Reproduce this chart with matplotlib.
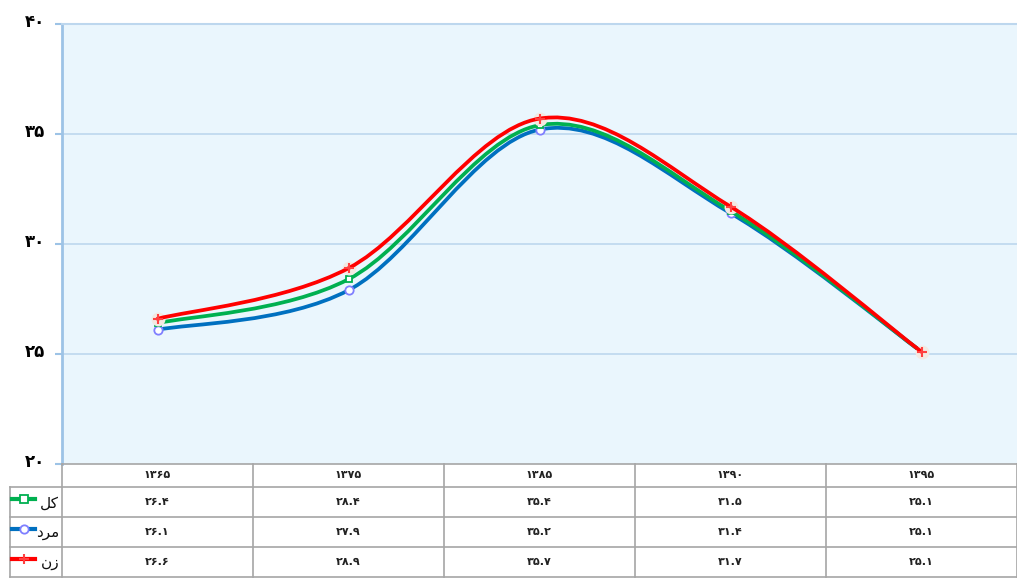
import matplotlib
matplotlib.use("Agg")
import matplotlib.pyplot as plt
from matplotlib.path import Path
from matplotlib.patches import PathPatch
from matplotlib.lines import Line2D
import matplotlib.transforms as mtransforms
import numpy as np

categories = ["۱۳۶۵", "۱۳۷۵", "۱۳۸۵", "۱۳۹۰", "۱۳۹۵"]
kol = [26.4, 28.4, 35.4, 31.5, 25.1]
mard = [26.1, 27.9, 35.2, 31.4, 25.1]
zan = [26.6, 28.9, 35.7, 31.7, 25.1]
kol_txt = ["۲۶.۴", "۲۸.۴", "۳۵.۴", "۳۱.۵", "۲۵.۱"]
mard_txt = ["۲۶.۱", "۲۷.۹", "۳۵.۲", "۳۱.۴", "۲۵.۱"]
zan_txt = ["۲۶.۶", "۲۸.۹", "۳۵.۷", "۳۱.۷", "۲۵.۱"]
# series names (Persian, visual order with presentation forms): کل, مرد, زن
names = ["\uFEDE\uFB90", "\uFEA9\uFEAE\uFEE3", "\uFEE5\uFEAF"]
yticks = [20, 25, 30, 35, 40]
ytick_labels = ["۲۰", "۲۵", "۳۰", "۳۵", "۴۰"]

colors = ["#00B050", "#0070C0", "#FF0000"]
marker_edges = ["#00B050", "#7F7FFF", "#FF4040"]
markers = ["s", "o", "+"]
msizes = [5, 6, 7]
series = [kol, mard, zan]
texts = [kol_txt, mard_txt, zan_txt]

W, H = 1017, 585
fig = plt.figure(figsize=(W / 100, H / 100), dpi=100)
plt.rcParams['font.family'] = ['DejaVu Sans']

L, R, T, B = 62, 1017, 24, 464
ax = fig.add_axes([L / W, 1 - B / H, (R - L) / W, (B - T) / H])
ax.set_facecolor("#EAF6FD")
n = len(categories)
ax.set_xlim(-0.5, n - 0.5)
ax.set_ylim(20, 40)
ax.set_xticks([])
ax.set_yticks(yticks)
ax.set_yticklabels(ytick_labels, fontsize=12, fontweight='bold')
ax.tick_params(axis='y', length=5, width=1.5, color="#9DC3E6", pad=7)
offset = mtransforms.ScaledTranslation(0, 2 / 100, fig.dpi_scale_trans)
for lab in ax.get_yticklabels():
    lab.set_verticalalignment('center')
    lab.set_transform(lab.get_transform() + offset)
for s in ["right", "bottom"]:
    ax.spines[s].set_visible(False)
ax.spines["left"].set_color("#9DC3E6")
ax.spines["left"].set_linewidth(2)
ax.spines["top"].set_color("#BDD7EE")
ax.spines["top"].set_linewidth(1.5)
for yv in yticks[1:-1]:
    ax.axhline(yv, color="#BDD7EE", lw=1.2, zorder=1)


def smooth_path(xs, ys):
    pts = np.column_stack([xs, ys]).astype(float)
    verts = [tuple(pts[0])]
    codes = [Path.MOVETO]
    m = len(pts)
    for i in range(m - 1):
        p0 = pts[i - 1] if i > 0 else pts[i]
        p1 = pts[i]
        p2 = pts[i + 1]
        p3 = pts[i + 2] if i + 2 < m else pts[i + 1]
        c1 = p1 + (p2 - p0) / 6.0
        c2 = p2 - (p3 - p1) / 6.0
        verts += [tuple(c1), tuple(c2), tuple(p2)]
        codes += [Path.CURVE4] * 3
    return Path(verts, codes)


xs = np.arange(n)
order = [1, 0, 2]
for rank, k in enumerate(order):
    ys = series[k]
    z = 3 + 2 * rank
    patch = PathPatch(smooth_path(xs, ys), facecolor='none', edgecolor=colors[k],
                      lw=2.7, zorder=z, capstyle='round')
    ax.add_patch(patch)
    if markers[k] == "+":
        ax.plot(xs, ys, linestyle='none', marker='o', ms=10, mew=0,
                color="#F3E9E2", zorder=z - 0.2)
        ax.plot(xs, ys, linestyle='none', marker='+', ms=msizes[k], mew=1.5,
                color=marker_edges[k], zorder=z + 1)
    else:
        ax.plot(xs, ys, linestyle='none', marker=markers[k], ms=msizes[k], mew=1.3,
                mfc='white', mec=marker_edges[k], zorder=z + 1)

# data table
tax = fig.add_axes([0, 0, 1, 1])
tax.set_xlim(0, W)
tax.set_ylim(H, 0)
tax.axis('off')
colw = (R - L) / n
row_y = [464, 487, 517, 547, 577]
grid_c = "#A6A6A6"
lw = 1.2
tax.plot([L, R], [row_y[0], row_y[0]], color=grid_c, lw=lw)
for yy in row_y[1:]:
    tax.plot([10, R], [yy, yy], color=grid_c, lw=lw)
tax.plot([10, 10], [row_y[1], row_y[-1]], color=grid_c, lw=lw)
for j in range(n + 1):
    x = L + j * colw
    tax.plot([x, x], [row_y[0], row_y[-1]], color=grid_c, lw=lw)
for j, c in enumerate(categories):
    tax.text(L + (j + 0.5) * colw, (row_y[0] + row_y[1]) / 2, c, ha='center',
             va='center', fontsize=8, fontweight='bold', color="#222222")
for r in range(3):
    yc = (row_y[r + 1] + row_y[r + 2]) / 2
    for j in range(n):
        tax.text(L + (j + 0.5) * colw, yc, texts[r][j], ha='center', va='center',
                 fontsize=8, fontweight='bold', color="#222222")
    tax.text(59, yc + 1, names[r], ha='right', va='center', fontsize=11, color="#111111")
    tax.add_line(Line2D([12, 35], [yc - 3, yc - 3], color=colors[r], lw=3))
    if markers[r] == "+":
        tax.plot([24], [yc - 3], marker='+', ms=7, mew=1.5, color=marker_edges[r])
    else:
        tax.plot([24], [yc - 3], marker=markers[r], ms=6, mew=1.3, mfc='white',
                 mec=marker_edges[r])

fig.savefig("out.png", dpi=100, facecolor="white")
